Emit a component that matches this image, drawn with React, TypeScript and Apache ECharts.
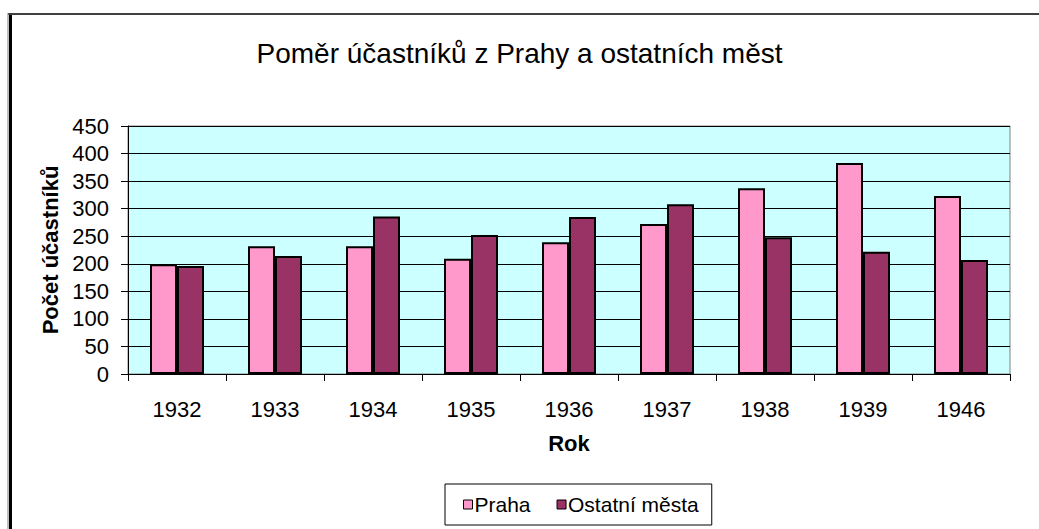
import React, { useEffect, useRef } from "react";
import * as echarts from "echarts";

const years = ["1932", "1933", "1934", "1935", "1936", "1937", "1938", "1939", "1946"];
const praha = [199, 232, 232, 209, 239, 272, 337, 383, 323];
const ostatni = [196, 214, 286, 252, 285, 308, 248, 222, 207];
const yTicks = { min: 0, max: 450, interval: 50 };

const FONT = "'Liberation Sans', Arial, sans-serif";

export default function App() {
  const ref = useRef<HTMLDivElement>(null);
  useEffect(() => {
    if (!ref.current) return;
    const chart = echarts.init(ref.current, null, { renderer: "svg" });
    chart.setOption({
      animation: false,
      backgroundColor: "#ffffff",
      textStyle: { fontFamily: FONT, color: "#000" },
      title: {
        text: "Poměr účastníků z Prahy a ostatních měst",
        left: "center",
        top: 34,
        textStyle: { fontFamily: FONT, fontSize: 28, fontWeight: "normal", color: "#000" },
      },
      graphic: [
        {
          type: "line",
          shape: { x1: 8, y1: 14, x2: 1039, y2: 14 },
          style: { stroke: "#404040", lineWidth: 2 },
          silent: true,
        },
        {
          type: "line",
          shape: { x1: 8, y1: 13, x2: 8, y2: 529 },
          style: { stroke: "#808080", lineWidth: 1 },
          silent: true,
        },
        {
          type: "line",
          shape: { x1: 10.5, y1: 15, x2: 10.5, y2: 529 },
          style: { stroke: "#000", lineWidth: 3 },
          silent: true,
        },
      ],
      grid: {
        left: 128,
        right: 29,
        top: 126,
        bottom: 155,
        show: true,
        backgroundColor: "#CCFFFF",
        borderColor: "#808080",
        borderWidth: 1,
      },
      legend: {
        left: 445,
        top: 484,
        padding: [10, 13, 10, 18],
        borderColor: "#000",
        borderWidth: 1,
        itemWidth: 9,
        itemHeight: 9,
        itemGap: 26,
        icon: "rect",
        textStyle: { fontFamily: FONT, fontSize: 21, color: "#000", padding: [0, 0, 0, -3] },
        data: [
          { name: "Praha", itemStyle: { borderColor: "#000", borderWidth: 1 } },
          { name: "Ostatní města", itemStyle: { borderColor: "#000", borderWidth: 1 } },
        ],
      },
      xAxis: {
        type: "category",
        data: years,
        name: "Rok",
        nameLocation: "middle",
        nameGap: 58,
        nameTextStyle: { fontFamily: FONT, fontSize: 22, fontWeight: "bold", color: "#000" },
        axisLine: { lineStyle: { color: "#000", width: 1 } },
        axisTick: { show: true, length: 7, lineStyle: { color: "#000" } },
        axisLabel: { fontFamily: FONT, fontSize: 22, color: "#000", margin: 24 },
      },
      yAxis: {
        type: "value",
        min: yTicks.min,
        max: yTicks.max,
        interval: yTicks.interval,
        name: "Počet účastníků",
        nameLocation: "middle",
        nameGap: 63,
        nameTextStyle: { fontFamily: FONT, fontSize: 22, fontWeight: "bold", color: "#000" },
        axisLine: { show: true, lineStyle: { color: "#000", width: 1 } },
        axisTick: { show: true, length: 7, lineStyle: { color: "#000" } },
        axisLabel: { fontFamily: FONT, fontSize: 22, color: "#000", margin: 19 },
        splitLine: { show: true, lineStyle: { color: "#000", width: 1 } },
      },
      series: [
        {
          name: "Praha",
          type: "bar",
          data: praha,
          barWidth: 27,
          barGap: "0%",
          itemStyle: { color: "#FF99CC", borderColor: "#000", borderWidth: 2 },
        },
        {
          name: "Ostatní města",
          type: "bar",
          data: ostatni,
          barWidth: 27,
          barGap: "0%",
          itemStyle: { color: "#993366", borderColor: "#000", borderWidth: 2 },
        },
      ],
    });
    return () => chart.dispose();
  }, []);
  return (
    <div
      ref={ref}
      style={{ position: "fixed", left: 0, top: 0, width: 1039, height: 529 }}
    />
  );
}
